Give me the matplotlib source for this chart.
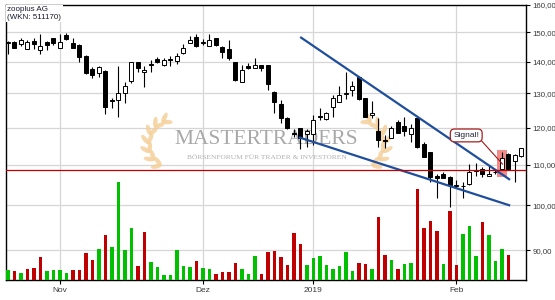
import matplotlib
matplotlib.use("Agg")
import matplotlib.pyplot as plt
import matplotlib.transforms as mtransforms
from matplotlib.patches import Rectangle, Ellipse
from matplotlib.ticker import FixedLocator, NullLocator
import numpy as np
import pandas as pd

# trading days (Xetra holidays removed)
holidays = ["2018-12-24", "2018-12-25", "2018-12-26", "2018-12-31", "2019-01-01"]
dates = pd.bdate_range("2018-10-22", "2019-02-15")
dates = dates[~dates.isin(pd.to_datetime(holidays))]

opens = [146.5, 146.8, 145.9, 144.2, 147.0, 143.9, 146.8, 148.0, 144.5, 149.1,
         146.2, 145.7, 142.0, 137.7, 136.3, 137.0, 127.9, 128.0, 130.0, 133.8,
         139.9, 136.6, 139.3, 141.0, 139.0, 140.9, 140.4, 142.8, 146.2, 148.3,
         146.5, 145.2, 148.0, 145.1, 144.3, 139.9, 133.4, 138.7, 137.9, 138.9,
         138.9, 130.3, 126.8, 122.6, 118.4, 119.8, 118.1, 118.1, 123.2, 122.3,
         125.8, 127.5, 129.8, 131.0, 135.2, 128.5, 123.6, 119.0, 116.5, 117.0,
         121.5, 120.5, 118.1, 122.6, 115.4, 113.4, 107.1, 107.5, 106.9, 104.8,
         104.6, 105.0, 108.5, 109.0, 107.1, 108.0, 109.0, 112.7, 110.9, 112.3]
highs = [147.1, 147.0, 148.0, 147.5, 148.0, 149.6, 147.0, 148.1, 149.3, 149.7,
         148.0, 145.9, 142.3, 138.4, 138.7, 137.4, 128.5, 138.7, 133.4, 140.1,
         140.1, 138.7, 140.6, 141.7, 141.2, 142.0, 142.8, 145.9, 148.9, 149.3,
         147.6, 149.3, 148.2, 145.4, 147.4, 140.1, 139.0, 139.6, 141.4, 139.0,
         139.0, 130.7, 128.0, 123.1, 119.6, 120.0, 119.6, 123.6, 125.5, 124.6,
         129.5, 132.3, 136.8, 133.8, 135.4, 128.6, 127.7, 122.6, 117.9, 120.5,
         122.1, 123.1, 121.0, 123.1, 115.9, 113.4, 107.5, 108.0, 107.1, 106.1,
         105.7, 110.1, 110.3, 109.3, 109.9, 109.0, 113.4, 113.0, 112.7, 114.5]
lows = [142.5, 144.5, 145.2, 144.2, 144.2, 142.5, 144.0, 145.7, 144.5, 147.4,
        144.5, 139.9, 136.1, 134.9, 135.2, 123.8, 125.5, 123.1, 127.2, 133.1,
        136.6, 132.1, 136.8, 139.6, 138.8, 138.7, 139.3, 142.5, 146.2, 145.1,
        145.7, 145.2, 145.4, 141.4, 140.6, 133.9, 133.4, 137.7, 137.9, 137.0,
        131.0, 124.1, 121.2, 119.6, 117.5, 114.1, 114.7, 115.2, 122.1, 122.1,
        123.1, 127.5, 128.3, 129.3, 128.0, 122.9, 122.6, 114.7, 114.3, 117.0,
        118.4, 117.7, 115.9, 114.5, 111.9, 105.5, 101.8, 106.5, 99.6, 104.2,
        101.8, 104.9, 107.1, 106.9, 107.1, 107.7, 108.6, 108.6, 105.7, 112.1]
closes = [146.7, 144.7, 147.3, 146.6, 145.9, 145.4, 145.6, 146.2, 146.8, 147.7,
          144.7, 141.7, 136.3, 135.6, 138.3, 126.0, 127.7, 130.0, 132.3, 139.9,
          138.1, 137.4, 139.1, 139.9, 140.6, 140.7, 142.0, 144.7, 147.4, 145.4,
          146.6, 147.4, 145.7, 143.2, 141.2, 134.3, 137.2, 137.9, 139.0, 137.9,
          132.8, 127.5, 122.6, 119.8, 118.2, 117.0, 119.0, 122.1, 123.0, 124.3,
          128.7, 129.6, 130.0, 132.4, 128.3, 123.1, 124.1, 116.6, 116.3, 119.8,
          118.6, 118.9, 119.8, 114.7, 112.1, 106.9, 106.5, 106.7, 104.9, 104.5,
          104.7, 108.0, 108.4, 107.5, 107.7, 108.1, 111.8, 108.8, 112.5, 114.5]
# volume in thousand shares, last two days not yet reported
volumes = [30, 27, 21, 33, 36, 69, 27, 30, 30, 21, 30, 30, 81, 60, 93, 135, 99, 294,
           90, 156, 42, 144, 54, 39, 15, 15, 90, 42, 39, 57,
           36, 33, 18, 24, 24, 51, 33, 18, 72, 18, 84, 87, 69, 45, 141, 108, 45, 66,
           72, 45, 33, 42, 84, 27, 51, 48, 33, 189, 75, 60, 33,
           48, 51, 273, 156, 177, 147, 48, 207, 45, 138, 162, 72, 174, 135, 57, 93, 75,
           np.nan, np.nan]

month_labels = ["Nov", "Dez", "2019", "Feb"]
price_ticks = [90, 100, 110, 120, 130, 140, 150, 160]

# analyst drawings
resistance_level = 108.6
trend_upper_idx = [45.1, 77.1]
trend_upper_price = [148.2, 106.3]
trend_lower_idx = [44.9, 77.1]
trend_lower_price = [117.2, 100.0]
signal_idx = 76
signal_zone = [106.9, 113.9]

x = np.arange(len(dates))
months = pd.Series(dates.month)
month_pos = [i for i in range(1, len(dates)) if months[i] != months[i - 1]]

fig = plt.figure(figsize=(5.55, 3.0), dpi=100)
ax = fig.add_axes([6 / 555, 20 / 300, 519.7 / 555, 275 / 300])
ax.set_yscale("log")
ax.set_ylim(83.9, 160)
ax.set_xlim(-0.3, 79.65)

ax.yaxis.set_major_locator(FixedLocator(price_ticks))
ax.yaxis.set_minor_locator(NullLocator())
ax.set_yticklabels([f"{p:.2f}".replace(".", ",") for p in price_ticks])
ax.yaxis.tick_right()
ax.set_xticks(month_pos)
ax.set_xticklabels(month_labels)
ax.grid(True, color="#d6d6d6", lw=0.9)
ax.set_axisbelow(True)
ax.tick_params(axis="y", direction="out", length=3, width=0.8, pad=2,
               labelsize=5.7, labelcolor="#3a3a3a")
ax.tick_params(axis="x", direction="out", length=3, width=0.8, pad=2,
               labelsize=6, labelcolor="#3a3a3a")
for lab in ax.get_xticklabels() + ax.get_yticklabels():
    lab.set_family("Liberation Sans")
for sp in ax.spines.values():
    sp.set_color("black")
    sp.set_linewidth(1.0)

# candles
for i in x:
    o, h, l, c = opens[i], highs[i], lows[i], closes[i]
    ax.vlines(i, l, h, color="black", lw=0.8, zorder=4)
    up = c >= o
    ax.add_patch(Rectangle((i - 0.31, min(o, c)), 0.62, abs(c - o),
                           facecolor="white" if up else "black",
                           edgecolor="black", lw=0.7, zorder=5))

# signal highlight + annotation
ax.add_patch(Rectangle((signal_idx - 0.7, signal_zone[0]), 1.4,
                       signal_zone[1] - signal_zone[0],
                       facecolor="#F28A8A", edgecolor="none", zorder=3))
ax.annotate("Signal!", xy=(signal_idx + 0.1, 110.1), xytext=(70.5, 117.8),
            ha="center", va="center", fontsize=6, color="#22223a",
            family="Liberation Sans",
            bbox=dict(boxstyle="round,pad=0.35,rounding_size=0.5", fc="white",
                      ec="#A82020", lw=0.9),
            arrowprops=dict(arrowstyle="-", color="#A01818", lw=0.8,
                            relpos=(1, 0.1), shrinkA=0, shrinkB=0),
            zorder=7)

# trend lines and horizontal line
ax.plot(trend_upper_idx, trend_upper_price, color="#1F4E9C", lw=1.6, zorder=6)
ax.plot(trend_lower_idx, trend_lower_price, color="#1F4E9C", lw=1.6, zorder=6)
ax.axhline(resistance_level, color="#C00000", lw=0.9, zorder=6)

# title box
ax.text(0.0025, 0.995, "zooplus AG\n(WKN: 511170)", transform=ax.transAxes,
        ha="left", va="top", fontsize=5.8, color="#1a1a2e", family="Liberation Sans",
        linespacing=1.05,
        bbox=dict(fc="white", ec="none", pad=1.2), zorder=8)

# watermark (pixel coordinates, y downwards)
pix = mtransforms.Affine2D().scale(0.01, -0.01).translate(0, 3.0) + fig.dpi_scale_trans
ax.text(266.5, 139, "MASTERTRADERS", transform=pix, ha="center", va="center",
        fontsize=15.5, family="Liberation Serif", color="#a8a8a8", zorder=1)
ax.text(266.5, 157.5, "BÖRSENFORUM FÜR TRADER & INVESTOREN", transform=pix,
        ha="center", va="center", fontsize=5.4, family="Liberation Serif",
        color="#b0b0b0", zorder=1)


def laurel(cx, cy, mirror):
    R = 24
    for t in np.linspace(1.1, -1.15, 7):
        px, py = cx - R * np.cos(t), cy + R * np.sin(t)
        gx, gy = -np.sin(t), -np.cos(t)
        nx, ny = -np.cos(t), np.sin(t)
        for s in (0.8, -0.45):
            dx, dy = gx + s * nx, gy + s * ny
            n = np.hypot(dx, dy)
            dx, dy = dx / n, dy / n
            lx, ly = px + 5 * dx, py + 5 * dy
            ang = np.degrees(np.arctan2(dy, dx))
            if mirror:
                lx, ang = 533 - lx, 180 - ang
            ax.add_patch(Ellipse((lx, ly), 11, 4.5, angle=ang, transform=pix,
                                 facecolor="#F5D09A", edgecolor="none",
                                 alpha=0.85, zorder=1.5))


laurel(172, 144, False)
laurel(172, 144, True)

# volume
axv = fig.add_axes(ax.get_position(), sharex=ax)
axv.patch.set_visible(False)
axv.axis("off")
axv.set_ylim(0, 825)
vol_colors = ["#00C000"] + ["#00C000" if closes[i] >= closes[i - 1] else "#C00000"
                            for i in range(1, len(closes))]
axv.bar(x, volumes, width=0.6, color=vol_colors, zorder=2)
axv.set_xlim(-0.3, 79.65)

fig.savefig("out.png", dpi=100)
